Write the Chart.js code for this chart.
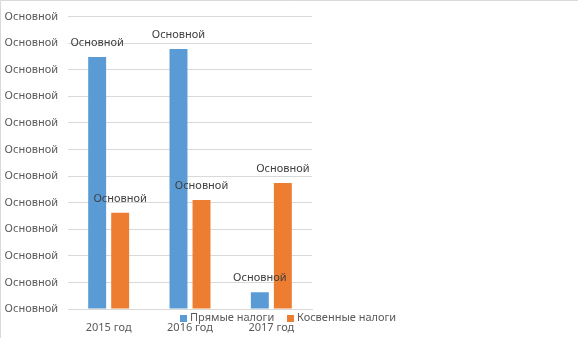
<!DOCTYPE html>
<html>
<head>
<meta charset="utf-8">
<script src="https://cdn.jsdelivr.net/npm/chart.js@4.4.1/dist/chart.umd.min.js"></script>
<style>
  html, body { margin: 0; padding: 0; background: #fff; }
  #wrap { width: 578px; height: 338px; position: relative; }
</style>
</head>
<body>
<div id="wrap"><canvas id="taxChart" width="578" height="338"></canvas></div>
<script>
// data
const years = ['2015 год', '2016 год', '2017 год'];
const directTax = [9.48, 9.78, 0.63];
const indirectTax = [3.62, 4.10, 4.74];
const seriesNames = ['Прямые налоги', 'Косвенные налоги'];
const yTickLabels = ['Основной', 'Основной', 'Основной', 'Основной', 'Основной', 'Основной',
                     'Основной', 'Основной', 'Основной', 'Основной', 'Основной', 'Основной'];
const barLabel = 'Основной';

const textColor = '#595959';
const fontFamily = '"Noto Sans", "Liberation Sans", sans-serif';

// labels above each bar + frame + legend drawn by hand
const extras = {
    id: 'extras',
    beforeDraw(chart) {
        const ctx = chart.ctx;
        ctx.save();
        ctx.strokeStyle = '#d9d9d9';
        ctx.lineWidth = 1;
        ctx.beginPath();
        ctx.moveTo(0.5, chart.height);
        ctx.lineTo(0.5, 0.5);
        ctx.lineTo(chart.width, 0.5);
        ctx.stroke();
        ctx.restore();
    },
    afterDatasetsDraw(chart) {
        const ctx = chart.ctx;
        ctx.save();
        ctx.font = '11px ' + fontFamily;
        ctx.fillStyle = '#404040';
        ctx.textAlign = 'center';
        ctx.textBaseline = 'middle';
        chart.data.datasets.forEach((ds, i) => {
            chart.getDatasetMeta(i).data.forEach(bar => {
                ctx.fillText(barLabel, bar.x, bar.y - 14);
            });
        });

        // legend
        let x = 180;
        const y = 318;
        chart.data.datasets.forEach((ds, i) => {
            ctx.fillStyle = ds.backgroundColor;
            ctx.fillRect(x, y - 3, 7, 7);
            ctx.fillStyle = textColor;
            ctx.textAlign = 'left';
            ctx.fillText(ds.label, x + 10, y);
            x += 107;
        });
        ctx.restore();
    }
};

new Chart(document.getElementById('taxChart'), {
    type: 'bar',
    data: {
        labels: years,
        datasets: [{
            label: seriesNames[0],
            data: directTax,
            backgroundColor: '#5b9bd5',
            categoryPercentage: 0.566,
            barPercentage: 0.78
        }, {
            label: seriesNames[1],
            data: indirectTax,
            backgroundColor: '#ed7d31',
            categoryPercentage: 0.566,
            barPercentage: 0.78
        }]
    },
    options: {
        responsive: false,
        animation: false,
        layout: { padding: { top: 14, right: 266, left: 0, bottom: 0 } },
        plugins: {
            legend: { display: false },
            tooltip: { enabled: false }
        },
        scales: {
            x: {
                grid: { display: false, drawTicks: false },
                border: { color: '#d9d9d9' },
                ticks: { color: textColor, font: { size: 11, family: fontFamily }, padding: 12 },
                afterFit: s => { s.height = 29; }
            },
            y: {
                min: 0,
                max: 11,
                grid: { color: '#d9d9d9', drawTicks: false },
                border: { display: false },
                ticks: {
                    stepSize: 1,
                    padding: 10,
                    color: textColor,
                    font: { size: 11, family: fontFamily },
                    callback: (v, i) => yTickLabels[i]
                },
                afterFit: s => { s.width = 68; }
            }
        }
    },
    plugins: [extras]
});
</script>
</body>
</html>
